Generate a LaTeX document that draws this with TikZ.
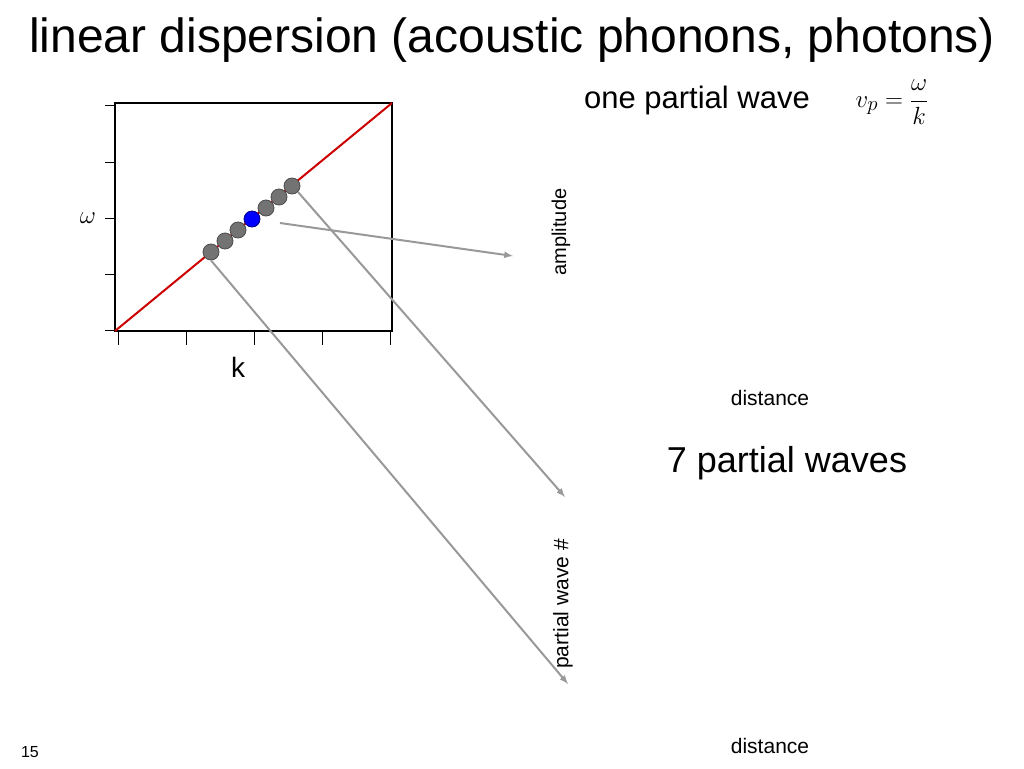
\documentclass[tikz,border=0pt]{standalone}
\usepackage{fontspec}
\setmainfont{Liberation Sans}
\begin{document}
\begin{tikzpicture}[x=1pt,y=-1pt,
  ball/.style={circle,draw=black!70,fill=gray!90!black,minimum size=16pt,inner sep=0pt,line width=0.8pt},
  conn/.style={draw=gray!80,line width=2pt,-latex},
  lbl/.style={inner sep=0pt}]
\useasboundingbox (0,0) rectangle (1024,768);
\fill[white] (0,0) rectangle (1024,768);
\node[lbl,font=\fontsize{48}{52}\selectfont] (title) at (512,40) {linear dispersion (acoustic phonons, photons)};
% plot
\draw[line width=1.2pt] (115,103) rectangle (392,331);
\foreach \y in {105,162,218,274,330} \draw (105,\y) -- (115,\y);
\foreach \x in {118,186,254,322,390} \draw (\x,331) -- (\x,345);
\draw[red!80!black,line width=2pt] (115,331) -- (392,103);
\node[lbl,font=\fontsize{30}{32}\selectfont] (om) at (88,218) {$\omega$};
\node[lbl,font=\fontsize{28}{30}\selectfont] (k) at (238,367) {k};
\foreach \x/\y/\n in {211/252/b1,225/241/b2,238/230/b3,266/208/b5,279/197/b6,292/186/b7}
  \node[ball] (\n) at (\x,\y) {};
\node[ball,fill=blue,draw=blue!50!black] (b4) at (252,219) {};
\coordinate (a1) at (513,256);
\coordinate (a2) at (565,497);
\coordinate (a3) at (568,684);
\draw[conn] (280,223) -- (a1);
\draw[conn] (b7.south east) -- (a2);
\draw[conn] (b1.south) -- (a3);
\node[lbl,font=\fontsize{31}{33}\selectfont] (opw) at (697,100) {one partial wave};
\node[lbl,font=\fontsize{31}{33}\selectfont] (vp) at (892,102) {$v_p=\displaystyle\frac{\omega}{k}$};
\node[lbl,rotate=90,font=\fontsize{20}{22}\selectfont] (amp) at (561,232) {amplitude};
\node[lbl,font=\fontsize{21}{23}\selectfont] (d1) at (770,398) {distance};
\node[lbl,font=\fontsize{36}{38}\selectfont] (spw) at (787,463) {7 partial waves};
\node[lbl,rotate=90,font=\fontsize{21}{23}\selectfont] (pw) at (563,604) {partial wave \#};
\node[lbl,font=\fontsize{21}{23}\selectfont] (d2) at (770,746) {distance};
\node[lbl,font=\fontsize{16}{18}\selectfont] (num) at (30,752) {15};
\end{tikzpicture}
\end{document}
